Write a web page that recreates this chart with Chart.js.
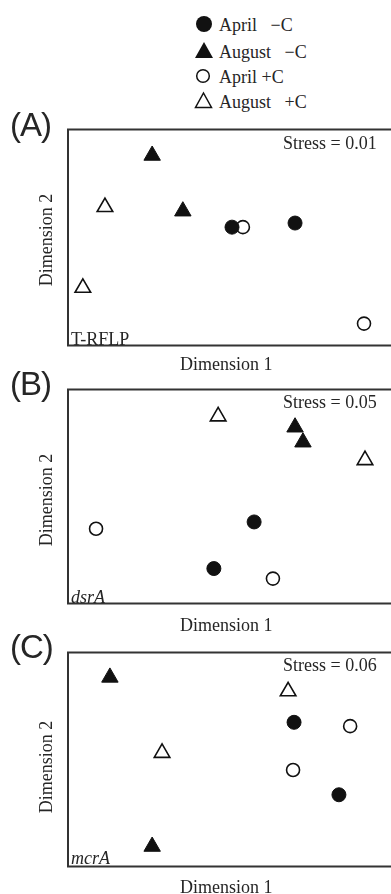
<!DOCTYPE html>
<html><head><meta charset="utf-8">
<script src="https://cdn.jsdelivr.net/npm/chart.js@4"></script>
<style>
html,body{margin:0;padding:0;background:#fff;overflow:hidden;}
#wrap{position:relative;width:391px;height:894px;overflow:hidden;background:#fff;}
canvas{position:absolute;left:0;}
.t{position:absolute;font-family:"Liberation Serif","DejaVu Serif",serif;font-size:18px;color:#262626;line-height:20px;white-space:pre;}
.p{position:absolute;font-family:"Liberation Sans",Arial,sans-serif;font-size:33px;color:#262626;line-height:34px;letter-spacing:-1px;}
.rot{transform:translate(-50%,-50%) rotate(-90deg);}
svg.mk{position:absolute;}
</style></head>
<body><div id="wrap">
<canvas id="cA" width="420" height="237" style="top:119px"></canvas>
<canvas id="cB" width="420" height="235" style="top:379px"></canvas>
<canvas id="cC" width="420" height="235" style="top:642px"></canvas>

<svg class="mk" style="left:194px;top:14px" width="20" height="20"><circle cx="10" cy="10" r="8" fill="#111"/></svg>
<div class="t" style="left:219px;top:15px">April   −C</div>
<svg class="mk" style="left:194px;top:40px" width="20" height="20"><polygon points="10,2 19,18 1,18" fill="#111"/></svg>
<div class="t" style="left:219px;top:42px">August   −C</div>
<svg class="mk" style="left:193px;top:66px" width="20" height="20"><circle cx="10" cy="10" r="6.3" fill="none" stroke="#111" stroke-width="1.5"/></svg>
<div class="t" style="left:219px;top:67px">April +C</div>
<svg class="mk" style="left:194px;top:90px" width="20" height="20"><polygon points="9.5,3 17.5,17.5 1.5,17.5" fill="none" stroke="#111" stroke-width="1.5"/></svg>
<div class="t" style="left:219px;top:92px">August   +C</div>

<div class="p" style="left:10px;top:108px">(A)</div>
<div class="t" style="left:283px;top:133px">Stress = 0.01</div>
<div class="t" style="left:71px;top:329px">T-RFLP</div>
<div class="t" style="left:180px;top:354px">Dimension 1</div>
<div class="t rot" style="left:46px;top:240px">Dimension 2</div>

<div class="p" style="left:10px;top:367px">(B)</div>
<div class="t" style="left:283px;top:392px">Stress = 0.05</div>
<div class="t" style="left:71px;top:587px;font-style:italic">dsrA</div>
<div class="t" style="left:180px;top:615px">Dimension 1</div>
<div class="t rot" style="left:46px;top:500px">Dimension 2</div>

<div class="p" style="left:10px;top:630px">(C)</div>
<div class="t" style="left:283px;top:655px">Stress = 0.06</div>
<div class="t" style="left:71px;top:848px;font-style:italic">mcrA</div>
<div class="t" style="left:180px;top:877px">Dimension 1</div>
<div class="t rot" style="left:46px;top:767px">Dimension 2</div>
</div>
<script>
// Panel A (T-RFLP) – NMDS coordinates (arbitrary 0–100 units)
const A_aprilMinusC_x = [49.7, 68.8];
const A_aprilMinusC_y = [54.8, 56.7];
const A_augustMinusC_x = [25.5, 34.8];
const A_augustMinusC_y = [88.0, 62.2];
const A_aprilPlusC_x = [53.0, 89.7];
const A_aprilPlusC_y = [54.8, 10.1];
const A_augustPlusC_x = [11.2, 4.5];
const A_augustPlusC_y = [64.1, 26.7];

// Panel B (dsrA)
const B_aprilMinusC_x = [56.4, 44.2];
const B_aprilMinusC_y = [38.1, 16.3];
const B_augustMinusC_x = [68.8, 71.2];
const B_augustMinusC_y = [82.4, 75.4];
const B_aprilPlusC_x = [8.5, 62.1];
const B_aprilPlusC_y = [34.9, 11.6];
const B_augustPlusC_x = [45.5, 90.0];
const B_augustPlusC_y = [87.5, 67.0];

// Panel C (mcrA)
const C_aprilMinusC_x = [68.5, 82.1];
const C_aprilMinusC_y = [67.4, 33.5];
const C_augustMinusC_x = [12.7, 25.5];
const C_augustMinusC_y = [88.4, 9.3];
const C_aprilPlusC_x = [85.5, 68.2];
const C_aprilPlusC_y = [65.6, 45.1];
const C_augustPlusC_x = [66.7, 28.5];
const C_augustPlusC_y = [81.9, 53.1];

const seriesNames = ['April −C', 'August −C', 'April +C', 'August +C'];

function pts(xs, ys){ return xs.map((x,i)=>({x:x, y:ys[i]})); }

const boxPlugin = {
  id:'box',
  afterDraw(chart){
    const {ctx, chartArea:a} = chart;
    ctx.save();
    ctx.strokeStyle = '#333';
    ctx.lineWidth = 2;
    ctx.beginPath();
    ctx.moveTo(chart.width+5, a.top); ctx.lineTo(a.left, a.top);
    ctx.lineTo(a.left, a.bottom); ctx.lineTo(chart.width+5, a.bottom);
    ctx.stroke();
    ctx.restore();
  }
};

function make(id, d){
  const ds = [
    {label:seriesNames[0], data:pts(d[0],d[1]), pointStyle:'circle', pointRadius:7, backgroundColor:'#111', borderColor:'#111', borderWidth:1},
    {label:seriesNames[1], data:pts(d[2],d[3]), pointStyle:'triangle', pointRadius:9.5, backgroundColor:'#111', borderColor:'#111', borderWidth:1},
    {label:seriesNames[2], data:pts(d[4],d[5]), pointStyle:'circle', pointRadius:6.5, backgroundColor:'#fff', borderColor:'#111', borderWidth:1.6},
    {label:seriesNames[3], data:pts(d[6],d[7]), pointStyle:'triangle', pointRadius:9, backgroundColor:'#fff', borderColor:'#111', borderWidth:1.6}
  ];
  new Chart(document.getElementById(id), {
    type:'scatter',
    data:{datasets:ds},
    options:{
      responsive:false, animation:false,
      layout:{padding:{left:68, right:22, top:10, bottom:10}},
      plugins:{legend:{display:false}, tooltip:{enabled:false}},
      scales:{
        x:{display:false, min:0, max:100},
        y:{display:false, min:0, max:100}
      }
    },
    plugins:[boxPlugin]
  });
}

make('cA',[A_aprilMinusC_x,A_aprilMinusC_y,A_augustMinusC_x,A_augustMinusC_y,A_aprilPlusC_x,A_aprilPlusC_y,A_augustPlusC_x,A_augustPlusC_y]);
make('cB',[B_aprilMinusC_x,B_aprilMinusC_y,B_augustMinusC_x,B_augustMinusC_y,B_aprilPlusC_x,B_aprilPlusC_y,B_augustPlusC_x,B_augustPlusC_y]);
make('cC',[C_aprilMinusC_x,C_aprilMinusC_y,C_augustMinusC_x,C_augustMinusC_y,C_aprilPlusC_x,C_aprilPlusC_y,C_augustPlusC_x,C_augustPlusC_y]);
</script>
</body></html>
